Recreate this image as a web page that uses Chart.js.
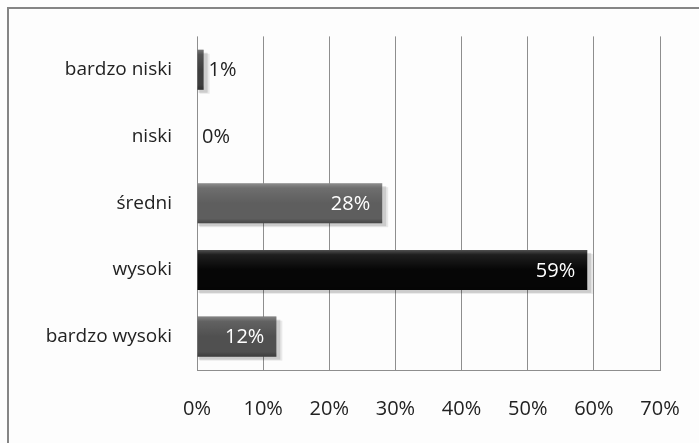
<!DOCTYPE html>
<html>
<head>
<meta charset="utf-8">
<script src="https://cdn.jsdelivr.net/npm/chart.js@4"></script>
<style>
  html, body { margin: 0; padding: 0; background: #fff; }
  #wrap { width: 699px; height: 443px; position: relative; }
</style>
</head>
<body>
<div id="wrap"><canvas id="chartContainer" width="699" height="443"></canvas></div>
<script>
// dane z wykresu
const kategorie = ["bardzo niski", "niski", "średni", "wysoki", "bardzo wysoki"];
const procenty = [1, 0, 28, 59, 12];
const kolory = ["#3e3e3e", "#4a4a4a", "#5e5e5e", "#060606", "#505050"];
const tickMax = 70;
const tickStep = 10;

const FONT = "'Open Sans', 'DejaVu Sans', sans-serif";

// ramka (tylko gora i lewa strona widoczne)
const ramka = {
    id: "ramka",
    beforeDraw(chart) {
        const ctx = chart.ctx;
        ctx.save();
        ctx.fillStyle = "#fdfdfd";
        ctx.fillRect(0, 0, chart.width, chart.height);
        ctx.strokeStyle = "#858585";
        ctx.lineWidth = 2;
        ctx.beginPath();
        ctx.moveTo(8, chart.height + 2);
        ctx.lineTo(8, 8);
        ctx.lineTo(chart.width + 2, 8);
        ctx.stroke();
        ctx.restore();
    }
};

// cien i polysk na slupkach + etykiety
const slupki = {
    id: "slupki",
    beforeDatasetsDraw(chart) {
        const ctx = chart.ctx;
        const meta = chart.getDatasetMeta(0);
        ctx.save();
        meta.data.forEach((bar, i) => {
            if (procenty[i] <= 0) return;
            const h = bar.height;
            ctx.fillStyle = "rgba(0,0,0,0.12)";
            ctx.fillRect(bar.base + 1, bar.y - h / 2 + 3, bar.x - bar.base + 3, h);
            ctx.fillStyle = "rgba(0,0,0,0.08)";
            ctx.fillRect(bar.base + 2, bar.y - h / 2 + 4, bar.x - bar.base + 4, h);
        });
        ctx.restore();
    },
    afterDatasetsDraw(chart) {
        const ctx = chart.ctx;
        const meta = chart.getDatasetMeta(0);
        ctx.save();
        meta.data.forEach((bar, i) => {
            const h = bar.height;
            const top = bar.y - h / 2;
            const w = bar.x - bar.base;
            if (w > 0) {
                // gorna jasna krawedz
                const g = ctx.createLinearGradient(0, top, 0, top + h);
                g.addColorStop(0, "rgba(255,255,255,0.30)");
                g.addColorStop(0.12, "rgba(255,255,255,0.10)");
                g.addColorStop(0.5, "rgba(255,255,255,0)");
                g.addColorStop(0.88, "rgba(0,0,0,0)");
                g.addColorStop(1, "rgba(0,0,0,0.25)");
                ctx.fillStyle = g;
                ctx.fillRect(bar.base, top, w, h);
            }
            ctx.font = "20px " + FONT;
            ctx.textBaseline = "middle";
            const txt = procenty[i] + "%";
            if (procenty[i] >= 5) {
                ctx.fillStyle = "#ffffff";
                ctx.textAlign = "right";
                ctx.fillText(txt, bar.x - 12, bar.y + 1);
            } else {
                ctx.fillStyle = "#222222";
                ctx.textAlign = "left";
                ctx.fillText(txt, bar.x + 5, bar.y + 1);
            }
        });
        ctx.restore();
    }
};

new Chart("chartContainer", {
    type: "bar",
    data: {
        labels: kategorie,
        datasets: [{
            data: procenty,
            backgroundColor: kolory,
            borderWidth: 0,
            categoryPercentage: 0.6,
            barPercentage: 1.0
        }]
    },
    options: {
        indexAxis: "y",
        responsive: false,
        animation: false,
        events: [],
        layout: { padding: { top: 33, right: 39, left: 0, bottom: 0 } },
        plugins: {
            legend: { display: false },
            tooltip: { enabled: false }
        },
        scales: {
            x: {
                min: 0,
                max: tickMax,
                afterFit(scale) {
                    scale.height = 443 - 370;
                    scale.paddingLeft = 0;
                    scale.paddingRight = 0;
                },
                grid: { color: "#8e8e8e", lineWidth: 1, drawTicks: false },
                border: { display: true, color: "#8e8e8e", width: 1 },
                ticks: {
                    stepSize: tickStep,
                    padding: 27,
                    color: "#222",
                    font: { family: FONT, size: 20 },
                    callback: (v) => v + "%"
                }
            },
            y: {
                afterFit(scale) { scale.width = 197; },
                grid: { display: false, drawTicks: false },
                border: { display: false },
                ticks: {
                    padding: 25,
                    color: "#222",
                    font: { family: FONT, size: 19 }
                }
            }
        }
    },
    plugins: [ramka, slupki]
});
</script>
</body>
</html>
